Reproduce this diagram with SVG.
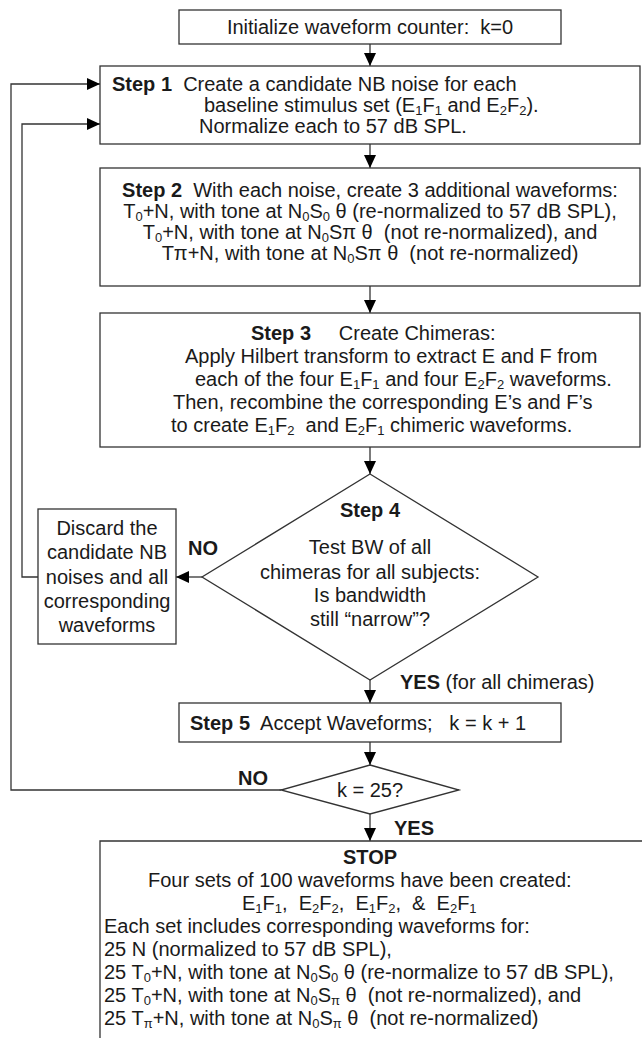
<svg xmlns="http://www.w3.org/2000/svg" width="642" height="1038" viewBox="0 0 642 1038">
<style>
text{font-family:"Liberation Sans",Arial,Helvetica,sans-serif;font-size:20px;fill:#1a1a1a;white-space:pre}
.b{font-weight:bold}
.c{text-anchor:middle}
.box{fill:#fff;stroke:#333;stroke-width:1.3}
.ln{fill:none;stroke:#333;stroke-width:1.3}
.s{font-size:13px}
</style>
<defs>
<marker id="ah" markerUnits="userSpaceOnUse" markerWidth="13" markerHeight="12" refX="13" refY="6" orient="auto">
<path d="M0,0 L13,6 L0,12 z" fill="#000"/>
</marker>
</defs>
<rect width="642" height="1038" fill="#fff"/>

<g id="connectors">
<line class="ln" x1="370" y1="44" x2="370" y2="66" marker-end="url(#ah)"/>
<line class="ln" x1="370" y1="144" x2="370" y2="168" marker-end="url(#ah)"/>
<line class="ln" x1="370" y1="286" x2="370" y2="313" marker-end="url(#ah)"/>
<line class="ln" x1="370" y1="447" x2="370" y2="474" marker-end="url(#ah)"/>
<line class="ln" x1="202" y1="577" x2="176" y2="577" marker-end="url(#ah)"/>
<line class="ln" x1="370" y1="680" x2="370" y2="703" marker-end="url(#ah)"/>
<line class="ln" x1="370" y1="742" x2="370" y2="765" marker-end="url(#ah)"/>
<line class="ln" x1="370" y1="814" x2="370" y2="841" marker-end="url(#ah)"/>
<polyline class="ln" points="38,577 22,577 22,124 100,124" marker-end="url(#ah)"/>
<polyline class="ln" points="281,790 11,790 11,84 100,84" marker-end="url(#ah)"/>
<text class="b" x="188" y="555">NO</text>
<text x="400" y="689"><tspan class="b">YES</tspan> (for all chimeras)</text>
<text class="b" x="238" y="785">NO</text>
<text class="b" x="394" y="835">YES</text>
</g>

<g id="init">
<rect class="box" x="179" y="10" width="382" height="34"/>
<text class="c" x="370" y="34">Initialize waveform counter:  k=0</text>
</g>

<g id="step1">
<rect class="box" x="100" y="66" width="540" height="78"/>
<text x="112" y="91"><tspan class="b">Step 1</tspan>  Create a candidate NB noise for each</text>
<text x="204" y="112">baseline stimulus set (E<tspan class="s" dy="3">1</tspan><tspan dy="-3">F</tspan><tspan class="s" dy="3">1</tspan><tspan dy="-3"> and E</tspan><tspan class="s" dy="3">2</tspan><tspan dy="-3">F</tspan><tspan class="s" dy="3">2</tspan><tspan dy="-3">).</tspan></text>
<text x="199" y="133">Normalize each to 57 dB SPL.</text>
</g>

<g id="step2">
<rect class="box" x="100" y="168" width="540" height="118"/>
<text class="c" x="370" y="197"><tspan class="b">Step 2</tspan>  With each noise, create 3 additional waveforms:</text>
<text class="c" x="370" y="218">T<tspan class="s" dy="3">0</tspan><tspan dy="-3">+N, with tone at N</tspan><tspan class="s" dy="3">0</tspan><tspan dy="-3">S</tspan><tspan class="s" dy="3">0</tspan><tspan dy="-3"> θ (re-normalized to 57 dB SPL),</tspan></text>
<text class="c" x="370" y="239">T<tspan class="s" dy="3">0</tspan><tspan dy="-3">+N, with tone at N</tspan><tspan class="s" dy="3">0</tspan><tspan dy="-3">Sπ θ  (not re-normalized), and</tspan></text>
<text class="c" x="370" y="260">Tπ+N, with tone at N<tspan class="s" dy="3">0</tspan><tspan dy="-3">Sπ θ  (not re-normalized)</tspan></text>
</g>

<g id="step3">
<rect class="box" x="100" y="313" width="540" height="134"/>
<text x="251" y="340"><tspan class="b">Step 3</tspan>     Create Chimeras:</text>
<text x="185" y="363">Apply Hilbert transform to extract E and F from</text>
<text x="195" y="386">each of the four E<tspan class="s" dy="3">1</tspan><tspan dy="-3">F</tspan><tspan class="s" dy="3">1</tspan><tspan dy="-3"> and four E</tspan><tspan class="s" dy="3">2</tspan><tspan dy="-3">F</tspan><tspan class="s" dy="3">2</tspan><tspan dy="-3"> waveforms.</tspan></text>
<text x="173" y="409">Then, recombine the corresponding E’s and F’s</text>
<text x="171" y="432">to create E<tspan class="s" dy="3">1</tspan><tspan dy="-3">F</tspan><tspan class="s" dy="3">2</tspan><tspan dy="-3">  and E</tspan><tspan class="s" dy="3">2</tspan><tspan dy="-3">F</tspan><tspan class="s" dy="3">1</tspan><tspan dy="-3"> chimeric waveforms.</tspan></text>
</g>

<g id="step4">
<polygon class="box" points="370,474 538,577 370,680 202,577"/>
<text class="c b" x="370" y="517">Step 4</text>
<text class="c" x="370" y="554">Test BW of all</text>
<text class="c" x="370" y="579">chimeras for all subjects:</text>
<text class="c" x="370" y="602">Is bandwidth</text>
<text class="c" x="370" y="626">still “narrow”?</text>
</g>

<g id="discard">
<rect class="box" x="38" y="509" width="138" height="135"/>
<text class="c" x="107" y="535">Discard the</text>
<text class="c" x="107" y="559">candidate NB</text>
<text class="c" x="107" y="584">noises and all</text>
<text class="c" x="107" y="608">corresponding</text>
<text class="c" x="107" y="632">waveforms</text>
</g>

<g id="step5">
<rect class="box" x="179" y="703" width="382" height="39"/>
<text x="190" y="730"><tspan class="b">Step 5</tspan>  Accept Waveforms;   k = k + 1</text>
</g>

<g id="k25">
<polygon class="box" points="370,765 459,790 370,814 281,790"/>
<text class="c" x="370" y="797">k = 25?</text>
</g>

<g id="stop">
<path class="ln" d="M100,1040 L100,841 L642,841"/>
<text class="c b" x="370" y="864">STOP</text>
<text x="148" y="887">Four sets of 100 waveforms have been created:</text>
<text x="242" y="910">E<tspan class="s" dy="3">1</tspan><tspan dy="-3">F</tspan><tspan class="s" dy="3">1</tspan><tspan dy="-3">,  E</tspan><tspan class="s" dy="3">2</tspan><tspan dy="-3">F</tspan><tspan class="s" dy="3">2</tspan><tspan dy="-3">,  E</tspan><tspan class="s" dy="3">1</tspan><tspan dy="-3">F</tspan><tspan class="s" dy="3">2</tspan><tspan dy="-3">,  &amp;  E</tspan><tspan class="s" dy="3">2</tspan><tspan dy="-3">F</tspan><tspan class="s" dy="3">1</tspan></text>
<text x="104" y="933">Each set includes corresponding waveforms for:</text>
<text x="104" y="956">25 N (normalized to 57 dB SPL),</text>
<text x="104" y="979">25 T<tspan class="s" dy="3">0</tspan><tspan dy="-3">+N, with tone at N</tspan><tspan class="s" dy="3">0</tspan><tspan dy="-3">S</tspan><tspan class="s" dy="3">0</tspan><tspan dy="-3"> θ (re-normalize to 57 dB SPL),</tspan></text>
<text x="104" y="1002">25 T<tspan class="s" dy="3">0</tspan><tspan dy="-3">+N, with tone at N</tspan><tspan class="s" dy="3">0</tspan><tspan dy="-3">S</tspan><tspan class="s" dy="3">π</tspan><tspan dy="-3"> θ  (not re-normalized), and</tspan></text>
<text x="104" y="1025">25 T<tspan class="s" dy="3">π</tspan><tspan dy="-3">+N, with tone at N</tspan><tspan class="s" dy="3">0</tspan><tspan dy="-3">S</tspan><tspan class="s" dy="3">π</tspan><tspan dy="-3"> θ  (not re-normalized)</tspan></text>
</g>
</svg>
